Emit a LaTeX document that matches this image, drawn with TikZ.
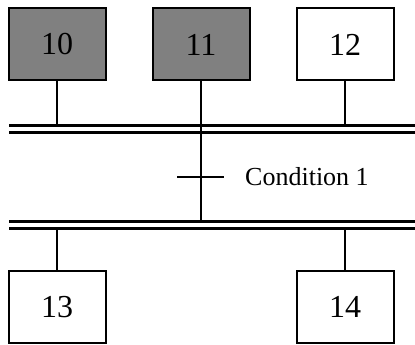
\documentclass[tikz,border=0pt]{standalone}
\usepackage{fontspec}
\setmainfont{Liberation Serif}
\tikzset{
	stepbox/.style={draw, line width=2pt, minimum width=97pt, minimum height=72pt, inner sep=0pt, font=\fontsize{32}{36}\selectfont},
	active/.style={stepbox, fill=gray},
	link/.style={line width=1.8pt},
	bar/.style={line width=3pt}
}
\begin{document}
\begin{tikzpicture}[x=1pt,y=-1pt]
			\useasboundingbox (0,0) rectangle (415,345);

			% steps
			\node[active] (s10) at (57,44.5) {10};
			\node[active] (s11) at (201,44.5) {11};
			\node[stepbox] (s12) at (345,44.5) {12};
			\node[stepbox] (s13) at (57,307) {13};
			\node[stepbox] (s14) at (345,307) {14};

			% synchronisation bars
			\coordinate (t1) at (9,125);
			\coordinate (t2) at (9,132.5);
			\coordinate (b1) at (9,221);
			\coordinate (b2) at (9,228);
			\draw[bar] (t1) -- (t1 -| 415,0);
			\draw[bar] (t2) -- (t2 -| 415,0);
			\draw[bar] (b1) -- (b1 -| 415,0);
			\draw[bar] (b2) -- (b2 -| 415,0);

			% links
			\draw[link] (s10.south) -- (s10.south |- t1);
			\draw[link] (s12.south) -- (s12.south |- t1);
			\draw[link] (s11.south) -- (s11.south |- b1);
			\draw[link] (s13.north) -- (s13.north |- b2);
			\draw[link] (s14.north) -- (s14.north |- b2);

			% transition
			\coordinate (c1) at (177,177);
			\draw[link] (c1) -- ++(47,0);
			\node[anchor=west, inner sep=0pt, font=\fontsize{26}{30}\selectfont] (cond) at (245,177) {Condition 1};
		\end{tikzpicture}
\end{document}
